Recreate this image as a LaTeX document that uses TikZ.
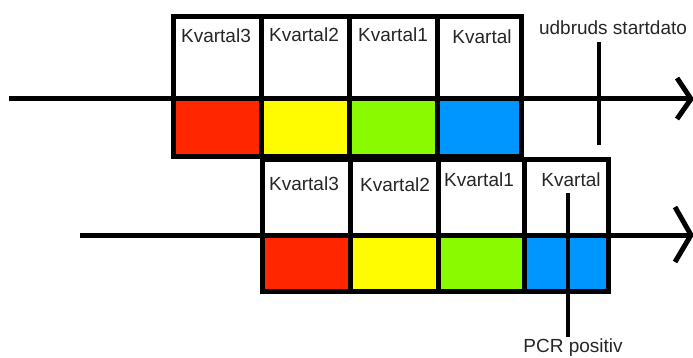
\documentclass[tikz,border=0pt]{standalone}
\usepackage{fontspec}
\setmainfont{Liberation Sans}
\definecolor{cred}{HTML}{FF2600}
\definecolor{cyellow}{HTML}{FFFB00}
\definecolor{cgreen}{HTML}{8AFA00}
\definecolor{cblue}{HTML}{0096FF}
\begin{document}
\begin{tikzpicture}[x=1pt,y=-1pt,
  cell/.style={draw=black, line width=5pt, rectangle, inner sep=0pt, outer sep=0pt, anchor=north west},
  lbl/.style={font=\fontsize{19}{19}\selectfont, anchor=base, text=black!85, inner sep=0pt},
  axisline/.style={line width=5pt},
  chevron/.style={line width=5pt, line join=miter},
  tickline/.style={line width=4.5pt}]
\useasboundingbox (0,0) rectangle (693,358);
% top row
\foreach \n/\x/\w/\col in {1/173/88/cred, 2/261/88/cyellow, 3/349/88/cgreen, 4/437/84/cblue}{
  \node[cell, fill=white, minimum width=\w pt, minimum height=82pt] (tw\n) at (\x,17) {};
  \node[cell, fill=\col, minimum width=\w pt, minimum height=58pt] (tc\n) at (\x,99) {};
}
% bottom row
\foreach \n/\x/\w/\col in {1/262/88/cred, 2/350/88/cyellow, 3/438/86/cgreen, 4/524/84/cblue}{
  \node[cell, fill=white, minimum width=\w pt, minimum height=75pt] (bw\n) at (\x,160) {};
  \node[cell, fill=\col, minimum width=\w pt, minimum height=56pt] (bc\n) at (\x,235) {};
}
% labels
\node[lbl] (lt1) at (216,43) {Kvartal3};
\node[lbl] (lt2) at (304,42) {Kvartal2};
\node[lbl] (lt3) at (393,42) {Kvartal1};
\node[lbl] (lt4) at (482,44) {Kvartal};
\node[lbl] (lb1) at (304,190) {Kvartal3};
\node[lbl] (lb2) at (395,192) {Kvartal2};
\node[lbl] (lb3) at (479,187) {Kvartal1};
\node[lbl] (lb4) at (571,186) {Kvartal};
% axes
\coordinate (a1s) at (9,99);
\coordinate (a1e) at (691,99);
\coordinate (a1u) at (677,78);
\coordinate (a1d) at (677,119);
\draw[axisline] (a1s) -- (a1e);
\draw[chevron] (a1u) -- (a1e) -- (a1d);
\coordinate (a2s) at (80,235);
\coordinate (a2e) at (691,235);
\coordinate (a2u) at (675,207);
\coordinate (a2d) at (675,262);
\draw[axisline] (a2s) -- (a2e);
\draw[chevron] (a2u) -- (a2e) -- (a2d);
% outbreak start
\node[lbl] (udb) at (613,35) {udbruds startdato};
\coordinate (u1) at (599,42);
\coordinate (u2) at (599,145);
\draw[tickline] (u1) -- (u2);
% PCR
\node[lbl] (pcr) at (573,352) {PCR positiv};
\coordinate (p1) at (568,193);
\coordinate (p2) at (568,337);
\draw[tickline] (p1) -- (p2);
\end{tikzpicture}
\end{document}
